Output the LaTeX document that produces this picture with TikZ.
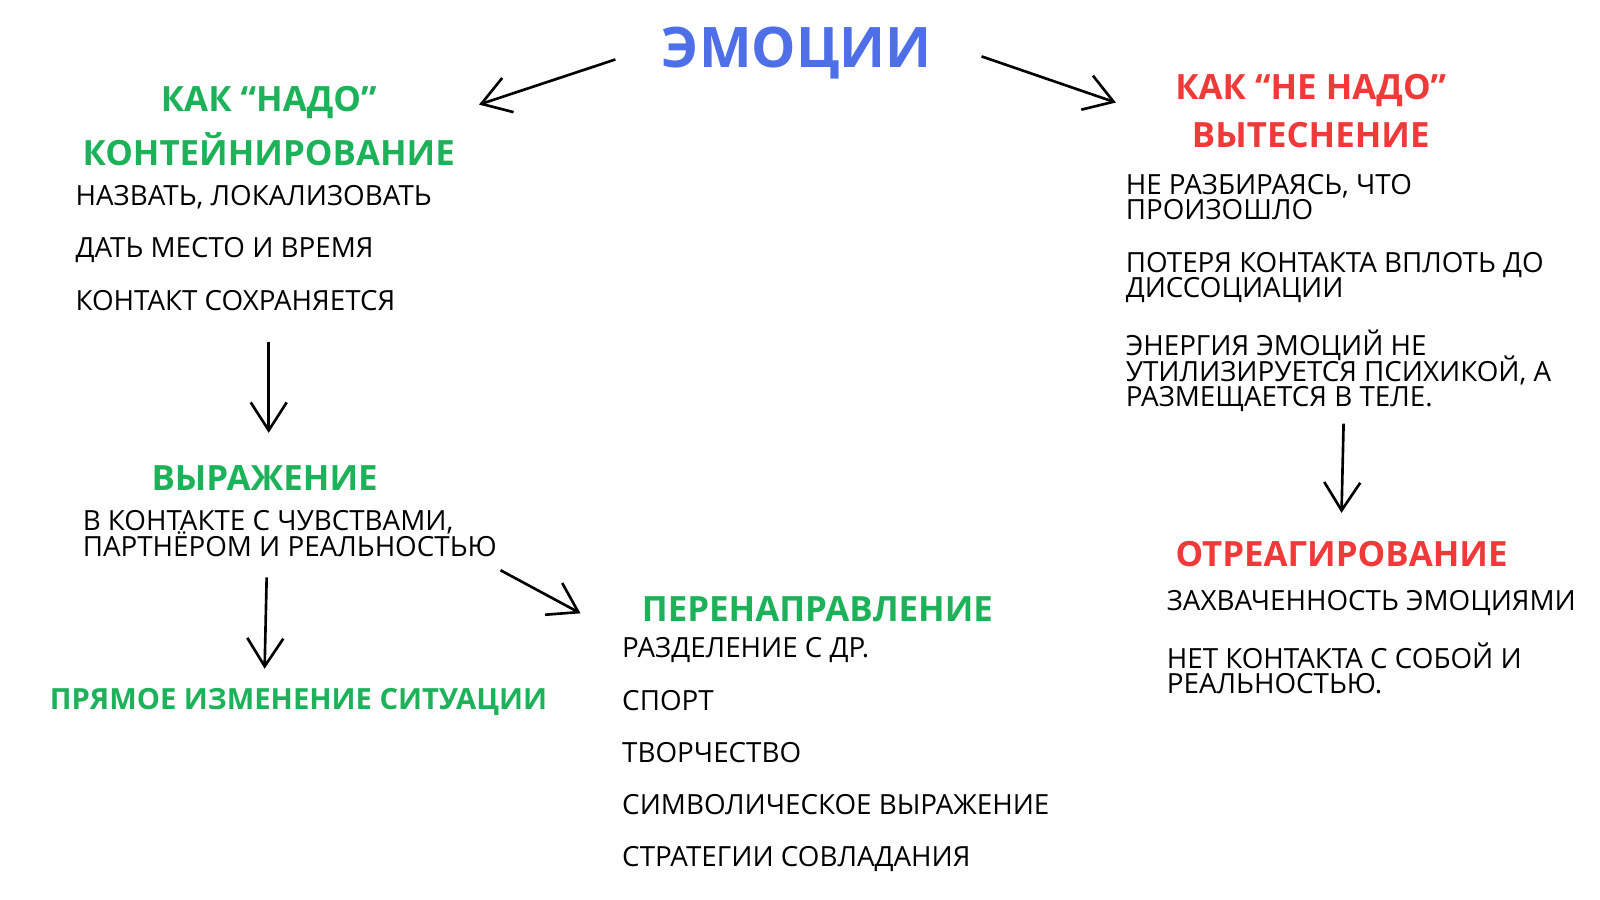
\documentclass[tikz,border=0pt]{standalone}
\usepackage{fontspec}
\setmainfont{Open Sans}
\usetikzlibrary{arrows.meta}
\definecolor{gr}{HTML}{1DB25A}
\definecolor{rd}{HTML}{F03A3A}
\definecolor{bl}{HTML}{4F6FE8}
\newcommand{\tightlines}{\lineskiplimit=-20pt\relax\lineskip=0pt\relax}
\tikzset{
 hd/.style={inner sep=0, font=\fontsize{9.9pt}{11pt}\selectfont\bfseries, anchor=center},
 tx/.style={inner sep=0, anchor=north west, align=left, font=\fontsize{7.9pt}{7.3pt}\selectfont\tightlines},
 arr/.style={-{Straight Barb[length=2.8mm,width=3.6mm]}, line width=0.75pt}
}
\begin{document}
\begin{tikzpicture}[x=0.01026cm,y=-0.01026cm]
\useasboundingbox[fill=white] (0,0) rectangle (1560,877.5);
\node[inner sep=0, font=\fontsize{15.9pt}{18pt}\selectfont\bfseries, text=bl] (em) at (777,52) {ЭМОЦИИ};
\coordinate (e1) at (600,58); \coordinate (e2) at (957,55);
\node[hd,text=gr] (kn) at (262,100) {КАК “НАДО”};
\node[hd,text=gr] (ko) at (262,145) {КОНТЕЙНИРОВАНИЕ};
\coordinate (kna) at (467,102);
\node[tx] (l1) at (73,180) {НАЗВАТЬ, ЛОКАЛИЗОВАТЬ};
\node[tx] (l2) at (73,231) {ДАТЬ МЕСТО И ВРЕМЯ};
\node[tx] (l3) at (73,282) {КОНТАКТ СОХРАНЯЕТСЯ};
\coordinate (a1s) at (262,333); \coordinate (a1e) at (262,422);
\node[hd,text=gr] (vy) at (258,466) {ВЫРАЖЕНИЕ};
\node[tx] (v1) at (80,497) {В КОНТАКТЕ С ЧУВСТВАМИ,\\ПАРТНЁРОМ И РЕАЛЬНОСТЬЮ};
\coordinate (a2s) at (260,563); \coordinate (a2e) at (258,652);
\node[hd,text=gr,font=\fontsize{8.3pt}{10pt}\selectfont\bfseries] (pr) at (291,684) {ПРЯМОЕ ИЗМЕНЕНИЕ СИТУАЦИИ};
\coordinate (a3s) at (488,556); \coordinate (a3e) at (566,598);
\node[hd,text=gr] (pe) at (797,594) {ПЕРЕНАПРАВЛЕНИЕ};
\node[tx] (p1) at (606,621) {РАЗДЕЛЕНИЕ С ДР.};
\node[tx] (p2) at (606,672) {СПОРТ};
\node[tx] (p3) at (606,723) {ТВОРЧЕСТВО};
\node[tx] (p4) at (606,774) {СИМВОЛИЧЕСКОЕ ВЫРАЖЕНИЕ};
\node[tx] (p5) at (606,825) {СТРАТЕГИИ СОВЛАДАНИЯ};
\node[hd,text=rd] (nn) at (1278,88) {КАК “НЕ НАДО”};
\node[hd,text=rd] (vt) at (1278,132) {ВЫТЕСНЕНИЕ};
\coordinate (nna) at (1088,100);
\node[tx] (r1) at (1097,169) {НЕ РАЗБИРАЯСЬ, ЧТО\\ПРОИЗОШЛО};
\node[tx] (r2) at (1097,245) {ПОТЕРЯ КОНТАКТА ВПЛОТЬ ДО\\ДИССОЦИАЦИИ};
\node[tx] (r3) at (1097,321) {ЭНЕРГИЯ ЭМОЦИЙ НЕ\\УТИЛИЗИРУЕТСЯ ПСИХИКОЙ, А\\РАЗМЕЩАЕТСЯ В ТЕЛЕ.};
\coordinate (a4s) at (1310,413); \coordinate (a4e) at (1308,500);
\node[hd,text=rd] (ot) at (1308,540) {ОТРЕАГИРОВАНИЕ};
\node[tx] (o1) at (1137,575) {ЗАХВАЧЕННОСТЬ ЭМОЦИЯМИ};
\node[tx] (o2) at (1137,626) {НЕТ КОНТАКТА С СОБОЙ И\\РЕАЛЬНОСТЬЮ.};
\draw[arr] (e1) -- (kna);
\draw[arr] (e2) -- (nna);
\draw[arr] (a1s) -- (a1e);
\draw[arr] (a2s) -- (a2e);
\draw[arr] (a3s) -- (a3e);
\draw[arr] (a4s) -- (a4e);
\end{tikzpicture}
\end{document}
